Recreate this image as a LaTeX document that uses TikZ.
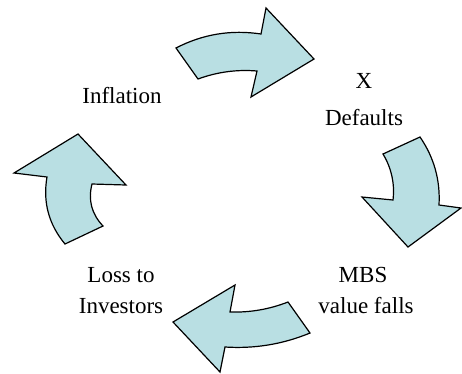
\documentclass[tikz,border=0pt]{standalone}
\usepackage{fontspec}
\setmainfont{Liberation Serif}
\definecolor{arrowfill}{RGB}{185,223,227}
\tikzset{
  cyclearrow/.style={draw=black, line width=1.2pt, line join=miter, fill=arrowfill},
  lbl/.style={font=\fontsize{23}{27}\selectfont, inner sep=0pt, anchor=base}
}
\begin{document}
\begin{tikzpicture}[x=1pt, y=-1pt]
\useasboundingbox (0,0) rectangle (462,373);

% top arrow
\draw[cyclearrow] (176,48) .. controls (202.8,34.1) and (231.1,29.5) .. (261,34) -- (266,8) -- (314,59)
   -- (251,97) -- (257,71) .. controls (236.7,69.3) and (217.1,72) .. (198,79) -- cycle;
% right arrow
\draw[cyclearrow] (383,154) -- (420,137) .. controls (434.1,157.5) and (440.4,180.2) .. (439,205) -- (461,208)
   -- (408,247) -- (362,197) -- (393,200) .. controls (394.9,183.5) and (391.5,168.2) .. cycle;
% bottom arrow
\draw[cyclearrow] (288,302) -- (310,333) .. controls (282.7,344.3) and (254.4,348.9) .. (225,347) -- (220,372)
   -- (173,322) -- (235,285) -- (230,312) .. controls (250,312.6) and (269.3,309.3) .. cycle;
% left arrow
\draw[cyclearrow] (78,134) -- (126,185) -- (92,184) .. controls (87.9,200) and (91.6,214) .. (103,226)
   -- (65,244) .. controls (48.7,224.4) and (42.7,202.1) .. (47,177) -- (14,173) -- cycle;

%\node at (0,0)[circle,fill,inner sep=1pt]{};
\node[lbl] (infl) at (122,103) {Inflation};
\node[lbl] (x) at (364,88) {X};
\node[lbl] (defaults) at (364,125) {Defaults};
\node[lbl] (mbs) at (363,282) {MBS};
\node[lbl] (falls) at (366,313) {value falls};
\node[lbl] (loss) at (121,282) {Loss to};
\node[lbl] (investors) at (121,313) {Investors};

\end{tikzpicture}
\end{document}
